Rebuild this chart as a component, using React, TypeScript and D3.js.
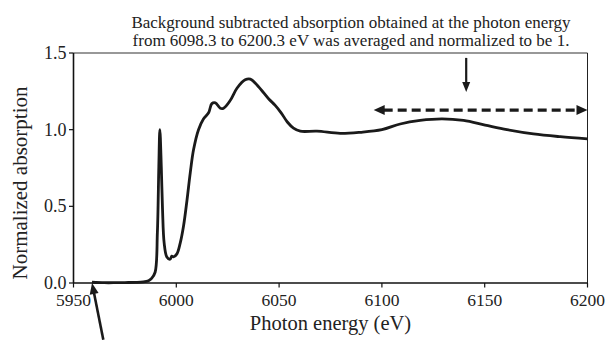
import React from 'react'
import * as d3 from 'd3'

// spectrum (eV, normalized absorption)
const energy = [
  5959, 5965, 5970, 5975, 5980, 5984, 5986.5, 5988, 5989.7, 5990.8, 5991.5, 5992, 5992.7,
  5993.3, 5994.1, 5995.4, 5997, 5997.8, 5998.6, 6000.3, 6001.9, 6003.5, 6005.2, 6006.8,
  6008.4, 6010.8, 6013.2, 6015.7, 6017.3, 6019, 6021.4, 6023, 6026.2, 6029.5, 6033.5,
  6036, 6040, 6045, 6048, 6051, 6054, 6057, 6060.3, 6068.4, 6079.7, 6089.5, 6100,
  6108.9, 6118.6, 6129.2, 6139.7, 6150.2, 6160.8, 6173.7, 6186.7, 6200
]
const absorption = [
  0.005, 0.002, 0.002, 0.003, 0.004, 0.007, 0.015, 0.03, 0.07, 0.33, 0.76, 1.0, 0.76,
  0.48, 0.26, 0.17, 0.155, 0.175, 0.17, 0.19, 0.26, 0.37, 0.54, 0.72,
  0.87, 1.0, 1.07, 1.11, 1.17, 1.175, 1.14, 1.14, 1.19, 1.27, 1.325,
  1.33, 1.28, 1.2, 1.16, 1.11, 1.05, 1.01, 0.99, 0.99, 0.976, 0.983, 1.0,
  1.037, 1.06, 1.07, 1.06, 1.03, 1.0, 0.972, 0.954, 0.94
]
const xTicks = [5950, 6000, 6050, 6100, 6150, 6200]
const yTicks = [0, 0.5, 1.0, 1.5]
const noteLines = [
  'Background subtracted absorption obtained at the photon energy',
  'from 6098.3 to 6200.3 eV was averaged and normalized to be 1.'
]
const avgRange = [6096, 6200]
const markX = 6141

const W = 608
const H = 340
const m = { left: 73.5, right: 587.5, top: 53, bottom: 283 }
const font = '"Liberation Serif", "Times New Roman", serif'

export default function App() {
  const x = d3.scaleLinear().domain([5950, 6200]).range([m.left, m.right])
  const y = d3.scaleLinear().domain([0, 1.5]).range([m.bottom, m.top])
  const pts: [number, number][] = energy.map((e, i) => [e, absorption[i]])
  const line = d3
    .line<[number, number]>()
    .x(d => x(d[0]))
    .y(d => y(d[1]))
    .curve(d3.curveCatmullRom.alpha(0.5))

  const head = (tx: number, ty: number, ang: number, len: number, wid: number) => {
    // triangle pointing along ang (radians) with tip at tx,ty
    const bx = tx - len * Math.cos(ang)
    const by = ty - len * Math.sin(ang)
    const px = (wid / 2) * Math.sin(ang)
    const py = -(wid / 2) * Math.cos(ang)
    return `M${tx},${ty}L${bx + px},${by + py}L${bx - px},${by - py}Z`
  }

  const dy = y(1.128)
  const dl = x(avgRange[0])
  const dr = x(avgRange[1])
  const vTop = y(1.468)
  const vTip = y(1.246)
  const bTip: [number, number] = [x(5959), y(0.0)]
  const bTail: [number, number] = [x(5964.5), y(-0.37)]
  const bAng = Math.atan2(bTip[1] - bTail[1], bTip[0] - bTail[0])

  return (
    <svg width={W} height={H} style={{ position: 'absolute', left: 0, top: 0, background: '#fff' }}
      fontFamily={font}>
      {/* frame */}
      <line x1={m.left} x2={m.right} y1={m.top} y2={m.top} stroke="#333" strokeWidth={1.2} />
      <line x1={m.right} x2={m.right} y1={m.top} y2={m.bottom} stroke="#222" strokeWidth={1} />
      <line x1={m.left} x2={m.left} y1={m.top} y2={m.bottom} stroke="#111" strokeWidth={1.6} />
      <line x1={m.left} x2={m.right} y1={m.bottom} y2={m.bottom} stroke="#111" strokeWidth={1.6} />

      {yTicks.map(t => (
        <g key={t}>
          <line x1={m.left - 4.5} x2={m.left} y1={y(t)} y2={y(t)} stroke="#111" strokeWidth={1.2} />
          <text x={m.left - 7} y={y(t)} dy="0.34em" textAnchor="end" fontSize={18} fill="#222">
            {d3.format('.1f')(t)}
          </text>
        </g>
      ))}
      {xTicks.map(t => (
        <g key={t}>
          <line x1={x(t)} x2={x(t)} y1={m.bottom} y2={m.bottom + 4.5} stroke="#111" strokeWidth={1.2} />
          <text x={x(t)} y={305.5} textAnchor="middle" fontSize={17.5} fill="#222">{t}</text>
        </g>
      ))}

      <text x={(m.left + m.right) / 2} y={330} textAnchor="middle" fontSize={20.5} fill="#222">
        Photon energy (eV)
      </text>
      <text transform={`translate(27,${183}) rotate(-90)`} textAnchor="middle" fontSize={21} fill="#222">
        Normalized absorption
      </text>

      {noteLines.map((s, i) => (
        <text key={i} x={351} y={28 + i * 18} textAnchor="middle" fontSize={17} fill="#222">{s}</text>
      ))}

      <path d={line(pts) ?? ''} fill="none" stroke="#1a1a1a" strokeWidth={2.8} strokeLinejoin="round" />

      {/* vertical arrow */}
      <line x1={x(markX)} x2={x(markX)} y1={vTop} y2={vTip - 8} stroke="#1a1a1a" strokeWidth={2.2} />
      <path d={head(x(markX), vTip, Math.PI / 2, 10, 8)} fill="#1a1a1a" />

      {/* dashed double arrow */}
      <line x1={dl + 10} x2={dr - 10} y1={dy} y2={dy} stroke="#1a1a1a" strokeWidth={3.2}
        strokeDasharray="9 5" />
      <path d={head(dl, dy, Math.PI, 11, 10)} fill="#1a1a1a" />
      <path d={head(dr, dy, 0, 11, 10)} fill="#1a1a1a" />

      {/* bottom arrow */}
      <line x1={bTail[0]} y1={bTail[1]} x2={bTip[0] + 9 * Math.cos(bAng + Math.PI)}
        y2={bTip[1] + 9 * Math.sin(bAng + Math.PI)} stroke="#1a1a1a" strokeWidth={2.6} />
      <path d={head(bTip[0], bTip[1], bAng, 11, 9)} fill="#1a1a1a" />
    </svg>
  )
}
